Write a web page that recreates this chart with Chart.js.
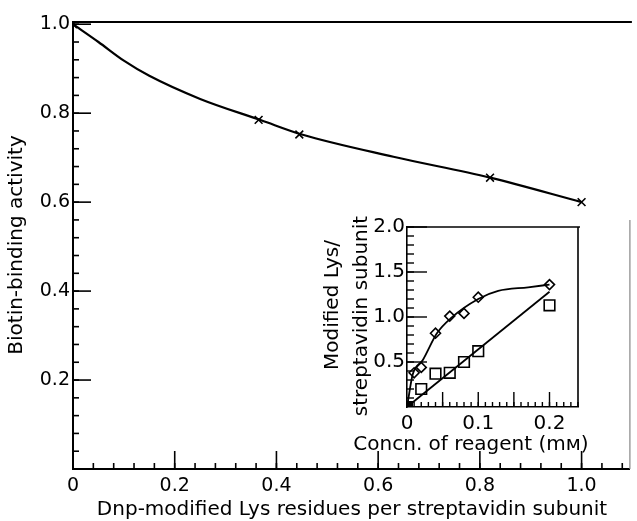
<!DOCTYPE html>
<html>
<head>
<meta charset="utf-8">
<script src="https://cdn.jsdelivr.net/npm/chart.js@4.4.1/dist/chart.umd.min.js"></script>
<style>
  body { margin: 0; background: #fff; }
  #wrap { position: relative; width: 637px; height: 521px; }
  #mainChart { position: absolute; left: 0; top: 0; }
  #insetChart { position: absolute; left: 315px; top: 210px; }
</style>
</head>
<body>
<div id="wrap">
  <canvas id="mainChart" width="637" height="521"></canvas>
  <canvas id="insetChart" width="285" height="250"></canvas>
</div>
<script>
// main plot: activity vs Dnp-modified Lys
const mainX = [0, 0.365, 0.445, 0.82, 1.0];
const mainY = [1.0, 0.785, 0.752, 0.655, 0.6];
const mainFitX = [0, 0.05, 0.1, 0.15, 0.25, 0.37, 0.45, 0.63, 0.82, 1.0];
const mainFitY = [1.0, 0.96, 0.918, 0.884, 0.832, 0.784, 0.752, 0.702, 0.655, 0.6];
const mainXTicks = [0, 0.2, 0.4, 0.6, 0.8, 1.0];
const mainYTicks = [0.2, 0.4, 0.6, 0.8, 1.0];

// inset: modified Lys vs reagent concentration
const diamondConc = [0, 0.01, 0.02, 0.04, 0.06, 0.08, 0.1, 0.2];
const diamondVals = [0, 0.38, 0.44, 0.82, 1.01, 1.04, 1.22, 1.36];
const squareConc = [0, 0.02, 0.04, 0.06, 0.08, 0.1, 0.2];
const squareVals = [0, 0.2, 0.37, 0.38, 0.5, 0.62, 1.13];
const diamondFitX = [0, 0.008, 0.022, 0.042, 0.062, 0.1, 0.128, 0.17, 0.2];
const diamondFitY = [0, 0.36, 0.52, 0.82, 0.99, 1.2, 1.29, 1.33, 1.36];
const squareFitX = [0, 0.2];
const squareFitY = [0, 1.28];
const insetXTicks = [0, 0.1, 0.2];
const insetYTicks = [0.5, 1.0, 1.5, 2.0];

const FONT = "'DejaVu Sans', Verdana, sans-serif";

const pts = (xs, ys) => xs.map((x, i) => ({x: x, y: ys[i]}));

// steps between 0 and max, skipping 0
function steps(step, max) {
  const out = [];
  const n = Math.floor(max / step + 1e-6);
  for (let i = 1; i <= n; i++) out.push(i * step);
  return out;
}

// inward tick marks, frame lines and axis titles
function makeFrame(cfg) {
  return {
    id: 'frame_' + cfg.name,
    afterDraw(chart) {
      const ctx = chart.ctx;
      const a = chart.chartArea;
      const sx = chart.scales.x;
      const sy = chart.scales.y;
      ctx.save();
      ctx.strokeStyle = '#000';
      ctx.lineWidth = cfg.tickWidth;
      const xMax = sx.max, yMax = sy.max;

      const tickX = (list, len) => list.forEach(v => {
        const px = sx.getPixelForValue(v);
        ctx.beginPath(); ctx.moveTo(px, a.bottom); ctx.lineTo(px, a.bottom - len); ctx.stroke();
      });
      const tickY = (list, len) => list.forEach(v => {
        const py = sy.getPixelForValue(v);
        ctx.beginPath(); ctx.moveTo(a.left, py); ctx.lineTo(a.left + len, py); ctx.stroke();
      });
      tickX(steps(cfg.xMinor, xMax), cfg.xMinorLen);
      tickX(steps(cfg.xMajor, xMax), cfg.xMajorLen);
      tickY(steps(cfg.yMinor, yMax), cfg.yMinorLen);
      tickY(steps(cfg.yMajor, yMax), cfg.yMajorLen);

      ctx.lineWidth = cfg.topWidth;
      ctx.beginPath(); ctx.moveTo(a.left, a.top); ctx.lineTo(a.right + 2, a.top); ctx.stroke();
      ctx.lineWidth = cfg.rightWidth;
      ctx.strokeStyle = cfg.rightColor;
      ctx.beginPath();
      ctx.moveTo(a.right, sy.getPixelForValue(cfg.rightFrom));
      ctx.lineTo(a.right, a.bottom);
      ctx.stroke();

      ctx.fillStyle = '#000';
      ctx.textAlign = 'center';
      ctx.textBaseline = 'middle';
      cfg.titles.forEach(t => {
        ctx.save();
        ctx.font = t.size + 'px ' + FONT;
        ctx.translate(t.x, t.y);
        if (t.rot) ctx.rotate(-Math.PI / 2);
        ctx.fillText(t.text, 0, 0);
        ctx.restore();
      });
      ctx.restore();
    }
  };
}

const tickFont = size => ({family: FONT, size: size});

new Chart(document.getElementById('mainChart'), {
  type: 'scatter',
  data: {
    datasets: [{
      data: pts(mainFitX, mainFitY),
      showLine: true,
      cubicInterpolationMode: 'monotone',
      borderColor: '#000',
      borderWidth: 2.2,
      pointRadius: 0
    }, {
      data: pts(mainX, mainY),
      showLine: false,
      pointStyle: 'crossRot',
      pointRadius: 5.5,
      borderColor: '#000',
      borderWidth: 1.6
    }]
  },
  options: {
    responsive: false,
    devicePixelRatio: 1,
    animation: false,
    layout: {padding: {top: 22, right: 1, left: 0, bottom: 0}},
    plugins: {legend: {display: false}, tooltip: {enabled: false}},
    scales: {
      x: {
        type: 'linear', min: 0, max: 1.095,
        grid: {display: false, drawTicks: false},
        border: {display: true, color: '#000', width: 2},
        afterBuildTicks: s => { s.ticks = mainXTicks.map(v => ({value: v})); },
        afterFit: s => { s.height = 52; },
        ticks: {
          color: '#000', font: tickFont(19), padding: 6, maxRotation: 0, autoSkip: false,
          callback: v => v === 0 ? '0' : v.toFixed(1)
        }
      },
      y: {
        type: 'linear', min: 0, max: 1.005,
        grid: {display: false, drawTicks: false},
        border: {display: true, color: '#000', width: 2},
        afterBuildTicks: s => { s.ticks = mainYTicks.map(v => ({value: v})); },
        afterFit: s => { s.width = 73; },
        ticks: {color: '#000', font: tickFont(19), padding: 3, callback: v => v.toFixed(1)}
      }
    }
  },
  plugins: [makeFrame({
    name: 'main', tickWidth: 1.6,
    xMinor: 0.04, xMinorLen: 6, xMajor: 0.2, xMajorLen: 18,
    yMinor: 0.04, yMinorLen: 6, yMajor: 0.2, yMajorLen: 18,
    topWidth: 2, rightWidth: 1.2, rightColor: '#888', rightFrom: 0.56,
    titles: [
      {text: 'Dnp-modified Lys residues per streptavidin subunit', x: 352, y: 510, size: 20},
      {text: 'Biotin-binding activity', x: 17, y: 245, size: 20, rot: true}
    ]
  })]
});

new Chart(document.getElementById('insetChart'), {
  type: 'scatter',
  data: {
    datasets: [{
      data: pts(diamondFitX, diamondFitY),
      showLine: true,
      cubicInterpolationMode: 'monotone',
      borderColor: '#000',
      borderWidth: 1.8,
      pointRadius: 0
    }, {
      data: pts(squareFitX, squareFitY),
      showLine: true,
      borderColor: '#000',
      borderWidth: 1.8,
      pointRadius: 0
    }, {
      data: pts(diamondConc, diamondVals),
      pointStyle: 'rectRot',
      pointRadius: 5,
      borderColor: '#000',
      borderWidth: 1.6,
      backgroundColor: c => c.dataIndex === 0 ? '#000' : '#fff'
    }, {
      data: pts(squareConc, squareVals),
      pointStyle: 'rect',
      pointRadius: 7.5,
      borderColor: '#000',
      borderWidth: 1.6,
      backgroundColor: c => c.dataIndex === 0 ? '#000' : '#fff'
    }]
  },
  options: {
    responsive: false,
    devicePixelRatio: 1,
    animation: false,
    layout: {padding: {top: 17, right: 22, left: 0, bottom: 0}},
    plugins: {legend: {display: false}, tooltip: {enabled: false}},
    scales: {
      x: {
        type: 'linear', min: 0, max: 0.24,
        grid: {display: false, drawTicks: false},
        border: {display: true, color: '#000', width: 1.6},
        afterBuildTicks: s => { s.ticks = insetXTicks.map(v => ({value: v})); },
        afterFit: s => { s.height = 53; },
        ticks: {
          color: '#000', font: tickFont(20), padding: 5, maxRotation: 0, autoSkip: false,
          callback: v => v === 0 ? '0' : v.toFixed(1)
        }
      },
      y: {
        type: 'linear', min: 0, max: 2.0,
        grid: {display: false, drawTicks: false},
        border: {display: true, color: '#000', width: 1.6},
        afterBuildTicks: s => { s.ticks = insetYTicks.map(v => ({value: v})); },
        afterFit: s => { s.width = 92; },
        ticks: {color: '#000', font: tickFont(20), padding: 2, callback: v => v.toFixed(1)}
      }
    }
  },
  plugins: [makeFrame({
    name: 'inset', tickWidth: 1.4,
    xMinor: 0.01, xMinorLen: 5, xMajor: 0.05, xMajorLen: 15,
    yMinor: 0.1, yMinorLen: 7, yMajor: 0.5, yMajorLen: 20,
    topWidth: 1.6, rightWidth: 1.6, rightColor: '#000', rightFrom: 2.0,
    titles: [
      {text: 'Concn. of reagent (mᴍ)', x: 156, y: 235, size: 20},
      {text: 'Modified Lys/', x: 18, y: 95, size: 20, rot: true},
      {text: 'streptavidin subunit', x: 47, y: 106, size: 20, rot: true}
    ]
  })]
});
</script>
</body>
</html>
